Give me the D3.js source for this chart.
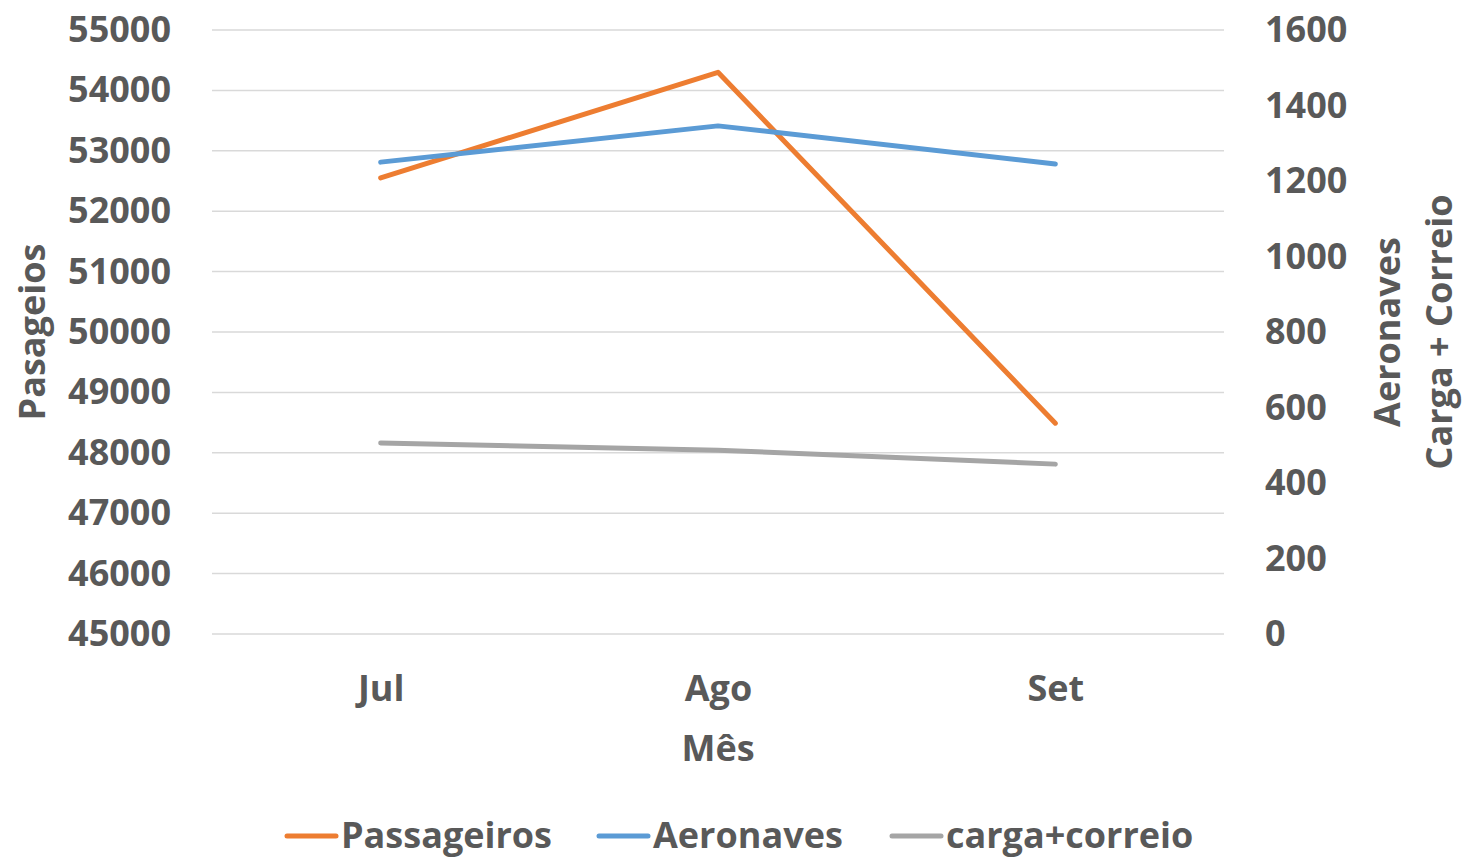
<!DOCTYPE html>
<html><head><meta charset="utf-8">
<script src="https://cdn.jsdelivr.net/npm/d3@7"></script>
<style>body{margin:0;background:#fff}svg{display:block}text{font-family:"Open Sans",sans-serif;font-weight:700;fill:#595959}</style>
</head><body><svg id="c" width="1463" height="858"></svg>
<script>
const months = ["Jul", "Ago", "Set"];
const passageiros = [52550, 54300, 48490];
const aeronaves = [1250, 1346, 1245];
const cargaCorreio = [506, 487, 450];
const leftTicks = [45000,46000,47000,48000,49000,50000,51000,52000,53000,54000,55000];
const rightTicks = [0,200,400,600,800,1000,1200,1400,1600];

const svg = d3.select("#c");
const L = 212, R = 1224, T = 30, B = 634;
const x = d3.scalePoint().domain(months).range([L, R]).padding(0.5);
const yL = d3.scaleLinear().domain([45000, 55000]).range([B, T]);
const yR = d3.scaleLinear().domain([0, 1600]).range([B, T]);

// gridlines
svg.append("g").selectAll("line").data(leftTicks).join("line")
  .attr("x1", L).attr("x2", R).attr("y1", d => yL(d)).attr("y2", d => yL(d))
  .attr("stroke", "#d9d9d9").attr("stroke-width", 1.5);

const fs = 36;
// left axis
const gl = svg.append("g").attr("transform", `translate(${L},0)`)
  .call(d3.axisLeft(yL).tickValues(leftTicks).tickSize(0).tickPadding(41).tickFormat(d3.format("d")));
gl.select(".domain").remove();
gl.selectAll("text").style("font-size", fs + "px").attr("fill", "#595959");
// right axis
const gr = svg.append("g").attr("transform", `translate(${R},0)`)
  .call(d3.axisRight(yR).tickValues(rightTicks).tickSize(0).tickPadding(41).tickFormat(d3.format("d")));
gr.select(".domain").remove();
gr.selectAll("text").style("font-size", fs + "px").attr("fill", "#595959");
// x axis
const gx = svg.append("g").attr("transform", `translate(0,${B})`)
  .call(d3.axisBottom(x).tickSize(0).tickPadding(41));
gx.select(".domain").remove();
gx.selectAll("text").style("font-size", fs + "px").attr("fill", "#595959");

// axis titles
svg.append("text").attr("x", 718).attr("y", 761).attr("text-anchor", "middle").style("font-size", fs + "px").text("Mês");
svg.append("text").attr("transform", "translate(45,332) rotate(-90)").attr("text-anchor", "middle").style("font-size", fs + "px").text("Pasageios");
svg.append("text").attr("transform", "translate(1400,332) rotate(-90)").attr("text-anchor", "middle").style("font-size", fs + "px").text("Aeronaves");
svg.append("text").attr("transform", "translate(1452,332) rotate(-90)").attr("text-anchor", "middle").style("font-size", fs + "px").text("Carga + Correio");

// lines
const series = [
  {name: "Passageiros", vals: passageiros, y: yL, color: "#ED7D31"},
  {name: "Aeronaves", vals: aeronaves, y: yR, color: "#5B9BD5"},
  {name: "carga+correio", vals: cargaCorreio, y: yR, color: "#A5A5A5"}
];
series.forEach(s => {
  const line = d3.line().x((d, i) => x(months[i])).y(d => s.y(d));
  svg.append("path").attr("d", line(s.vals)).attr("fill", "none")
    .attr("stroke", s.color).attr("stroke-width", 5).attr("stroke-linecap", "round").attr("stroke-linejoin", "round");
});

// legend
const legX = [285, 597, 890];
series.forEach((s, i) => {
  const g = svg.append("g").attr("transform", `translate(${legX[i]},836)`);
  g.append("line").attr("x1", 2).attr("x2", 51).attr("y1", 0).attr("y2", 0)
    .attr("stroke", s.color).attr("stroke-width", 5).attr("stroke-linecap", "round");
  g.append("text").attr("x", 56).attr("y", 12).style("font-size", fs + "px").text(s.name);
});
</script></body></html>
